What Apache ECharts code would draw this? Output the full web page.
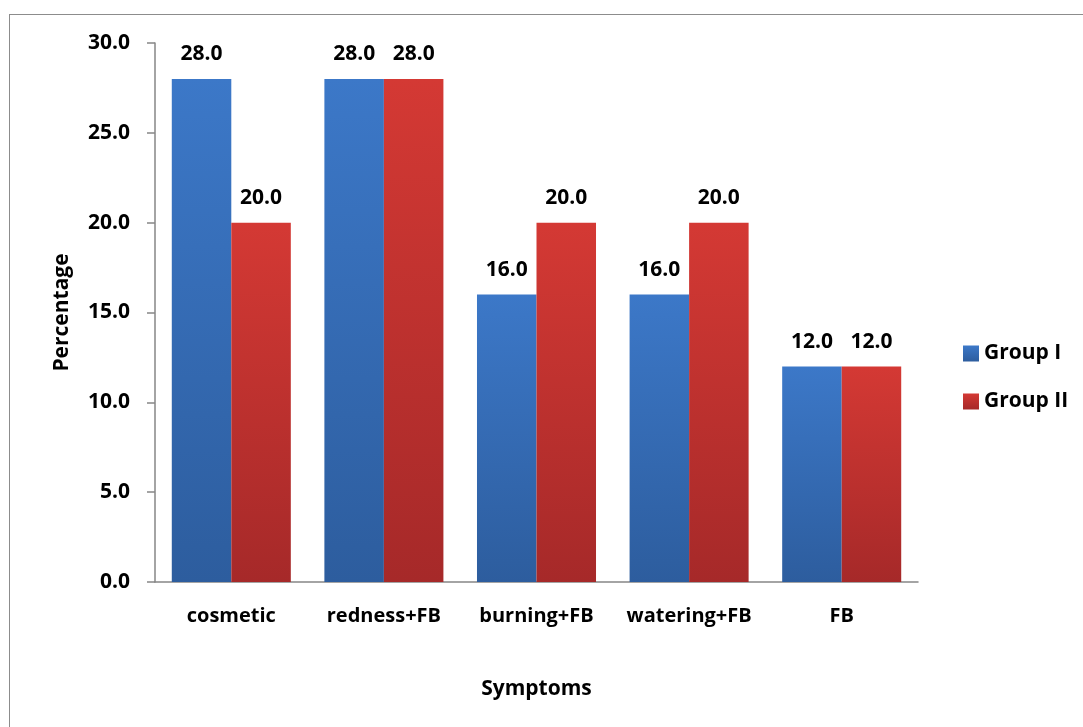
<!DOCTYPE html>
<html>
<head>
<meta charset="utf-8">
<script src="https://cdn.jsdelivr.net/npm/echarts@6/dist/echarts.min.js"></script>
<style>
  html, body { margin: 0; padding: 0; background: #fff; overflow: hidden; }
  #frame { position: absolute; left: 9px; top: 14px; width: 1100px; height: 740px; border: 1px solid #8c8c8c; box-sizing: border-box; }
  #chart { position: absolute; left: 0; top: 0; width: 1083px; height: 727px; }
</style>
</head>
<body>
<div id="frame"></div>
<div id="chart"></div>
<script>
// Symptom categories and percentages per group
const categories = ['cosmetic', 'redness+FB', 'burning+FB', 'watering+FB', 'FB'];
const groupI = [28.0, 28.0, 16.0, 16.0, 12.0];
const groupII = [20.0, 28.0, 20.0, 20.0, 12.0];
const seriesNames = ['Group I', 'Group II'];

const FONT = '"Open Sans", "DejaVu Sans", sans-serif';
const TEXT = { fontFamily: FONT, fontWeight: 'bold', fontSize: 21, color: '#000' };

// bars lighten toward the top and darken toward the axis
function barFill(top, bottom) {
  return new echarts.graphic.LinearGradient(0, 0, 0, 1, [
    { offset: 0, color: top },
    { offset: 1, color: bottom }
  ]);
}

const labelStyle = Object.assign({
  show: true,
  position: 'top',
  distance: 14,
  formatter: p => p.value.toFixed(1)
}, TEXT);

const chart = echarts.init(document.getElementById('chart'), null, { renderer: 'canvas' });
chart.setOption({
  animation: false,
  textStyle: { fontFamily: FONT },
  grid: { left: 155, right: 165, top: 43, bottom: 145, containLabel: false },
  legend: {
    orient: 'vertical',
    left: 958,
    top: 338,
    itemWidth: 16,
    itemHeight: 16,
    itemGap: 27,
    icon: 'rect',
    textStyle: TEXT,
    data: seriesNames
  },
  xAxis: {
    type: 'category',
    data: categories,
    name: 'Symptoms',
    nameLocation: 'middle',
    nameGap: 97,
    nameTextStyle: TEXT,
    axisLine: { lineStyle: { color: '#868686', width: 1.5 } },
    axisTick: { show: false },
    axisLabel: Object.assign({ margin: 24, interval: 0, hideOverlap: false }, TEXT, { fontSize: 20 })
  },
  yAxis: {
    type: 'value',
    min: 0,
    max: 30,
    interval: 5,
    name: 'Percentage',
    nameLocation: 'middle',
    nameGap: 82,
    nameTextStyle: TEXT,
    axisLine: { show: true, lineStyle: { color: '#868686', width: 1.5 } },
    axisTick: { show: true, length: 8, lineStyle: { color: '#868686', width: 1.5 } },
    splitLine: { show: false },
    axisLabel: Object.assign({ margin: 25, formatter: v => v.toFixed(1) }, TEXT)
  },
  series: [
    {
      name: seriesNames[0],
      type: 'bar',
      data: groupI,
      barGap: '0%',
      barCategoryGap: '22%',
      itemStyle: { color: barFill('#3c78c8', '#2d5d9e') },
      label: labelStyle
    },
    {
      name: seriesNames[1],
      type: 'bar',
      data: groupII,
      itemStyle: { color: barFill('#d43934', '#a62929') },
      label: labelStyle
    }
  ]
});
</script>
</body>
</html>
